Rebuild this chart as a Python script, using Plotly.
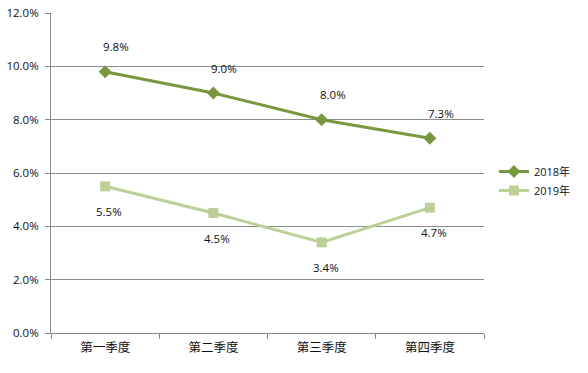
import plotly.graph_objects as go

categories = ["第一季度", "第二季度", "第三季度", "第四季度"]
series_2018 = [0.098, 0.090, 0.080, 0.073]
series_2019 = [0.055, 0.045, 0.034, 0.047]
labels_2018 = ["9.8%", "9.0%", "8.0%", "7.3%"]
labels_2019 = ["5.5%", "4.5%", "3.4%", "4.7%"]
names = ["2018年", "2019年"]

c2018 = "#78973F"
c2019 = "#BCCF96"
font_fam = "Open Sans, Noto Sans CJK SC, sans-serif"

fig = go.Figure()
fig.add_trace(go.Scatter(x=categories, y=series_2018, name=names[0], mode="lines+markers",
                         line=dict(color=c2018, width=3),
                         marker=dict(symbol="diamond", size=10, color=c2018)))
fig.add_trace(go.Scatter(x=categories, y=series_2019, name=names[1], mode="lines+markers",
                         line=dict(color=c2019, width=3),
                         marker=dict(symbol="square", size=10, color=c2019)))

for i, c in enumerate(categories):
    fig.add_annotation(x=c, y=series_2018[i], text=labels_2018[i], showarrow=False,
                       yshift=25, xshift=11, font=dict(size=11.5, color="#111", family=font_fam))
    fig.add_annotation(x=c, y=series_2019[i], text=labels_2019[i], showarrow=False,
                       yshift=-25, xshift=4, font=dict(size=11.5, color="#111", family=font_fam))

fig.update_layout(
    width=588, height=373,
    margin=dict(l=51, r=102, t=13, b=40),
    paper_bgcolor="white", plot_bgcolor="white",
    font=dict(family=font_fam, size=11.5, color="#111"),
    legend=dict(x=1.023, y=0.475, xanchor="left", yanchor="middle", borderwidth=0,
                font=dict(size=11), bgcolor="rgba(0,0,0,0)", tracegroupgap=2),
    showlegend=True,
)
fig.update_xaxes(type="category", range=[-0.5, 3.5], showline=True, linecolor="#888",
                 linewidth=1, ticks="outside", tickson="boundaries", ticklen=5,
                 tickcolor="#888", showgrid=False, automargin=False, ticklabelstandoff=3,
                 tickfont=dict(size=12.5, family="Noto Sans CJK SC"))
fig.update_yaxes(range=[0, 0.12], dtick=0.02, tickformat=".1%", showline=True,
                 linecolor="#888", linewidth=1, ticks="outside", ticklen=5, tickcolor="#888",
                 gridcolor="#8c8c8c", gridwidth=1, zeroline=False, automargin=False,
                 ticklabelstandoff=4, tickfont=dict(size=11.5))

fig.write_html("out.html", config={"displayModeBar": False},
               post_script="document.body.style.margin='0';")
